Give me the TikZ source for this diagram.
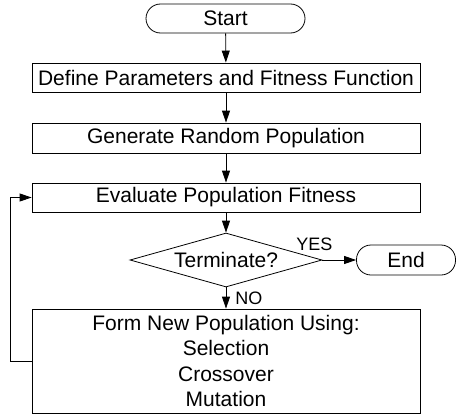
\documentclass[tikz,border=0pt]{standalone}
\usepackage{fontspec}
\setmainfont{Liberation Sans}
\usetikzlibrary{shapes.geometric, arrows.meta}

\begin{document}
\begin{tikzpicture}[x=1pt, y=-1pt, line width=0.8pt,
  box/.style={draw, rectangle, minimum width=388pt, minimum height=29pt, inner sep=0pt, font=\fontsize{21}{25.5}\selectfont},
  term/.style={draw, rectangle, rounded corners=14.5pt, minimum height=29pt, inner sep=0pt, font=\fontsize{21}{26}\selectfont},
  test/.style={draw, diamond, aspect=3.5, minimum width=192pt, minimum height=54pt, inner sep=0pt, font=\fontsize{21}{26}\selectfont},
  lbl/.style={font=\fontsize{18}{20}\selectfont, inner sep=0pt},
  flow/.style={-{Triangle[length=12pt, width=8pt]}}]
\useasboundingbox (0,0) rectangle (457,415);
\node[term, minimum width=159pt] (start) at (225.5,18.5) {Start};
\node[box] (def) at (226,77.5) {Define Parameters and Fitness Function};
\node[box, minimum height=30pt] (gen) at (226,138) {Generate Random Population};
\node[box] (eval) at (226,197.5) {Evaluate Population Fitness};
\node[test] (stop) at (226,260) {Terminate?};
\node[term, minimum width=99pt, minimum height=30pt] (end) at (406,260) {End};
\node[box, minimum height=104pt, align=center] (form) at (226,361) {Form New Population Using:\\Selection\\Crossover\\Mutation};
\coordinate (back) at (10,361);
% Arrows
\draw[flow] (start)--(def);
\draw[flow] (def)--(gen);
\draw[flow] (gen)--(eval);
\draw[flow] (eval)--(stop);
\draw[flow] (stop)--(end) node[lbl, pos=0, above=9pt, xshift=-8pt] {YES};
\draw[flow] (stop)--(form) node[lbl, midway, right=9pt] {NO};
% Loop back
\draw[flow] (form.west)--(back) |- (eval.west);
\end{tikzpicture}
\end{document}
